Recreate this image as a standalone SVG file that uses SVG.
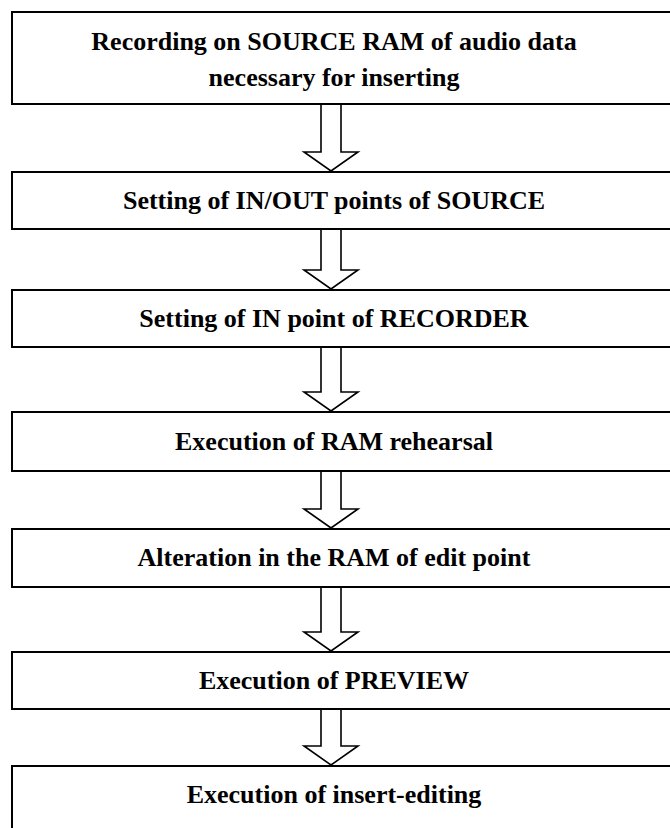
<svg xmlns="http://www.w3.org/2000/svg" width="670" height="828" viewBox="0 0 670 828">
<style>
.box{fill:#fff;stroke:#000;stroke-width:2}
.t{font-family:"Liberation Serif","Times New Roman",serif;font-weight:bold;font-size:26px;text-anchor:middle;fill:#000}
.arr{fill:#fff;stroke:#000;stroke-width:1.6;stroke-linejoin:miter}
</style>
<rect width="670" height="828" fill="#fff"/>
<g id="connectors">
<path class="arr" d="M321,104 V152 H304 L331,171 L358,152 H341 V104"/>
<path class="arr" d="M321,229 V270 H304 L331,289 L358,270 H341 V229"/>
<path class="arr" d="M321,347 V392 H304 L331,411 L358,392 H341 V347"/>
<path class="arr" d="M321,471 V509 H304 L331,528 L358,509 H341 V471"/>
<path class="arr" d="M321,587 V632 H304 L331,651 L358,632 H341 V587"/>
<path class="arr" d="M321,709 V746 H304 L331,765 L358,746 H341 V709"/>
</g>
<g id="n1"><rect class="box" x="12" y="12" width="680" height="92"/>
<text class="t" x="334" y="50">Recording on SOURCE RAM of audio data</text>
<text class="t" x="334" y="86">necessary for inserting</text></g>
<g id="n2"><rect class="box" x="12" y="172" width="680" height="57"/>
<text class="t" x="334" y="209">Setting of IN/OUT points of SOURCE</text></g>
<g id="n3"><rect class="box" x="12" y="290" width="680" height="57"/>
<text class="t" x="334" y="327">Setting of IN point of RECORDER</text></g>
<g id="n4"><rect class="box" x="12" y="412" width="680" height="59"/>
<text class="t" x="334" y="450">Execution of RAM rehearsal</text></g>
<g id="n5"><rect class="box" x="12" y="529" width="680" height="58"/>
<text class="t" x="334" y="566">Alteration in the RAM of edit point</text></g>
<g id="n6"><rect class="box" x="12" y="652" width="680" height="57"/>
<text class="t" x="334" y="689">Execution of PREVIEW</text></g>
<g id="n7"><rect class="box" x="12" y="766" width="680" height="80"/>
<text class="t" x="334" y="803">Execution of insert-editing</text></g>
</svg>
